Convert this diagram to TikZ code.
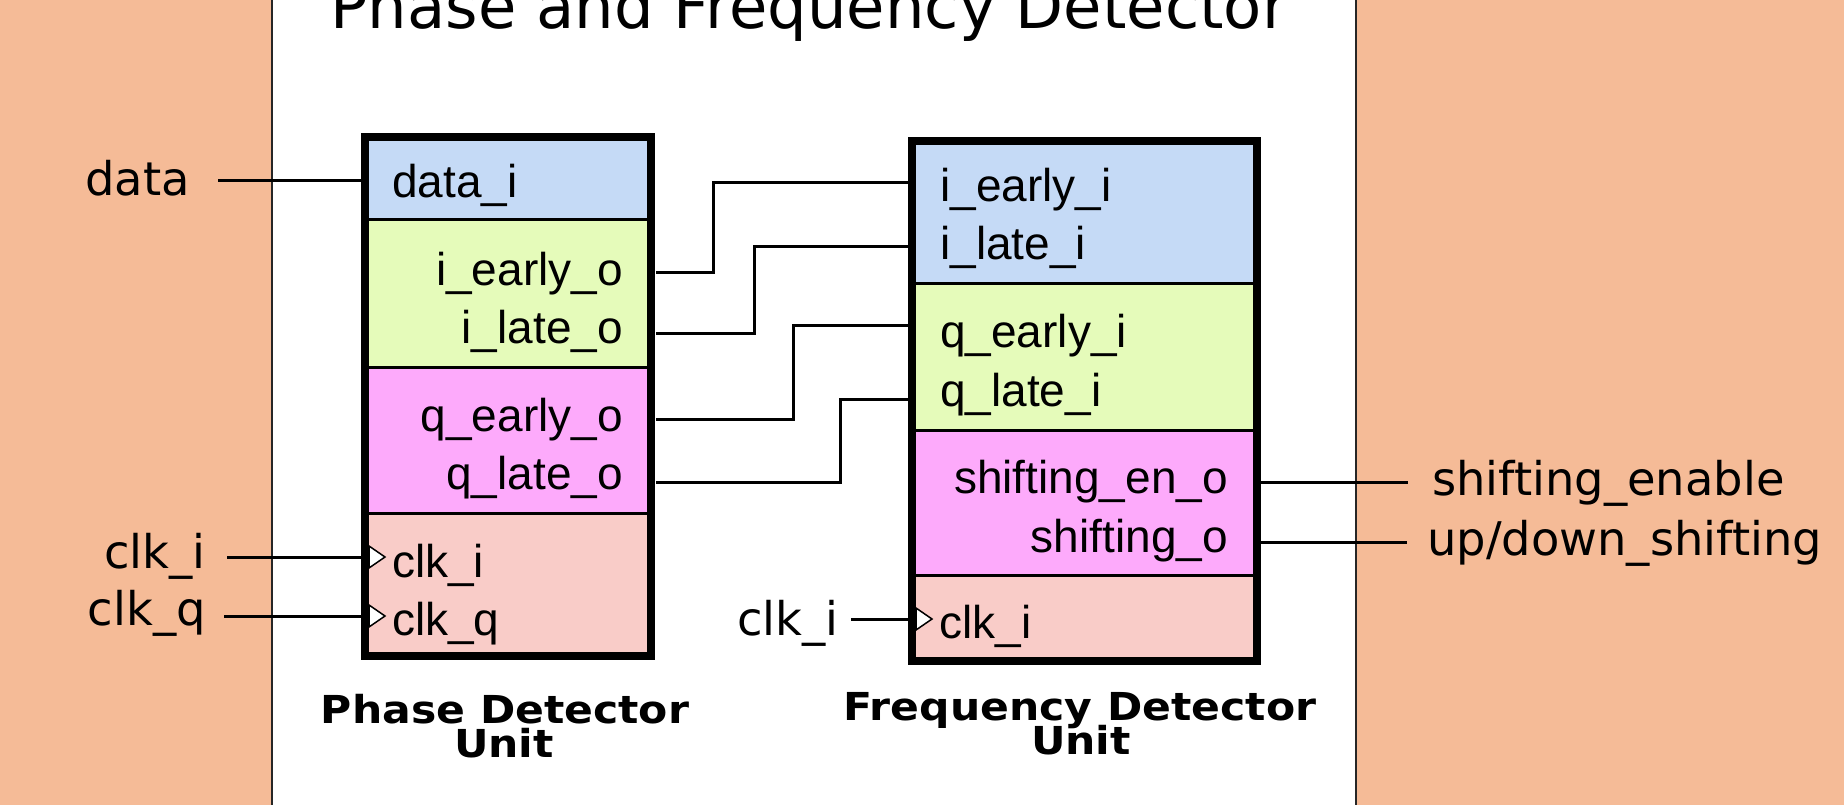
\documentclass[tikz,border=0pt]{standalone}
\usepackage{fontspec}
\setmainfont{DejaVu Sans}
\newfontfamily\pinfont{Liberation Sans}
\newfontfamily\unitfont{DejaVu Sans}[FakeStretch=1.105]
\definecolor{bgorange}{HTML}{F5BB97}
\definecolor{cblue}{HTML}{C5DAF6}
\definecolor{cgreen}{HTML}{E5FBBA}
\definecolor{cmag}{HTML}{FDAAFB}
\definecolor{cpink}{HTML}{F9CCC8}
\tikzset{
  x=1pt, y=-1pt,
  sec/.style={draw=black, line width=3pt, inner sep=0pt, outer sep=0pt, anchor=north west},
  unitbox/.style={draw=black, line width=8.5pt, inner sep=0pt, outer sep=0pt, anchor=north west},
  pin/.style={font=\pinfont\fontsize{46}{46}\selectfont, inner sep=0pt, text=black},
  ext/.style={font=\fontsize{46.4}{46}\selectfont, inner sep=0pt, text=black},
  unitlab/.style={font=\unitfont\bfseries\fontsize{38.5}{34}\selectfont, inner sep=0pt, anchor=base},
  wire/.style={line width=3pt, black},
  clkmark/.style={draw=black, fill=white, line width=1.5pt, line join=miter},
}
\begin{document}
\begin{tikzpicture}
\useasboundingbox (0,0) rectangle (1844,805);
\clip (0,0) rectangle (1844,805);
% background and panel
\fill[bgorange] (0,0) rectangle (1844,805);
\fill[white] (272,-5) rectangle (1356,810);
\draw[line width=2pt, black!85] (271.5,-5) -- (271.5,810);
\draw[line width=2pt, black!85] (1355.5,-5) -- (1355.5,810);

% title
\node[font=\fontsize{62.4}{62}\selectfont, inner sep=0pt, anchor=base] (title) at (809,29) {Phase and Frequency Detector};

% ---------- Phase detector unit ----------
\node[sec, fill=cblue,  minimum width=286pt, minimum height=83pt]  (pdA) at (365,137) {};
\node[sec, fill=cgreen, minimum width=286pt, minimum height=147pt] (pdB) at (365,220) {};
\node[sec, fill=cmag,   minimum width=286pt, minimum height=146pt] (pdC) at (365,367) {};
\node[sec, fill=cpink,  minimum width=286pt, minimum height=143pt] (pdD) at (365,513) {};
\node[unitbox, minimum width=286pt, minimum height=519pt] (pd) at (365,137) {};

\node[pin, anchor=base west] (pdData) at (392,197) {data\_i};
\node[pin, anchor=base east] (pdIE) at (623,285) {i\_early\_o};
\node[pin, anchor=base east] (pdIL) at (623,343) {i\_late\_o};
\node[pin, anchor=base east] (pdQE) at (623,431) {q\_early\_o};
\node[pin, anchor=base east] (pdQL) at (623,489) {q\_late\_o};
\node[pin, anchor=base west] (pdCI) at (392,577) {clk\_i};
\node[pin, anchor=base west] (pdCQ) at (392,635) {clk\_q};

\node[unitlab] (pdLab1) at (505,723) {Phase Detector};
\node[unitlab] (pdLab2) at (504,757) {Unit};

% ---------- Frequency detector unit ----------
\node[sec, fill=cblue,  minimum width=345pt, minimum height=142pt] (fdA) at (912,141) {};
\node[sec, fill=cgreen, minimum width=345pt, minimum height=147pt] (fdB) at (912,283) {};
\node[sec, fill=cmag,   minimum width=345pt, minimum height=145pt] (fdC) at (912,430) {};
\node[sec, fill=cpink,  minimum width=345pt, minimum height=86pt]  (fdD) at (912,575) {};
\node[unitbox, minimum width=345pt, minimum height=520pt] (fd) at (912,141) {};

\node[pin, anchor=base west] (fdIE) at (940,202) {i\_early\_i};
\node[pin, anchor=base west] (fdIL) at (940,259) {i\_late\_i};
\node[pin, anchor=base west] (fdQE) at (940,347) {q\_early\_i};
\node[pin, anchor=base west] (fdQL) at (940,406) {q\_late\_i};
\node[pin, anchor=base east] (fdSE) at (1228,493) {shifting\_en\_o};
\node[pin, anchor=base east] (fdSO) at (1228,552) {shifting\_o};
\node[pin, anchor=base west] (fdCI) at (939,638) {clk\_i};

\node[unitlab] (fdLab1) at (1080,720) {Frequency Detector};
\node[unitlab] (fdLab2) at (1081,754) {Unit};

% ---------- external labels ----------
\node[ext, anchor=base east] (xData) at (190,196) {data};
\node[ext, anchor=base east] (xCI) at (206,568) {clk\_i};
\node[ext, anchor=base east] (xCQ) at (206,625) {clk\_q};
\node[ext, anchor=base east] (xFCI) at (839,635) {clk\_i};
\node[ext, anchor=base west] (xSE) at (1432,495) {shifting\_enable};
\node[ext, anchor=base west] (xSO) at (1427,555) {up/down\_shifting};

% ---------- ports ----------
\coordinate (inData) at (218,181);  \coordinate (pData) at (361,181);
\coordinate (inCI) at (227,557);    \coordinate (pCI) at (361,557);
\coordinate (inCQ) at (224,616);    \coordinate (pCQ) at (361,616);
\coordinate (pIEo) at (656,272);    \coordinate (fIEi) at (908,183);
\coordinate (pILo) at (656,333);    \coordinate (fILi) at (908,246);
\coordinate (pQEo) at (656,419);    \coordinate (fQEi) at (908,325);
\coordinate (pQLo) at (656,482);    \coordinate (fQLi) at (908,399);
\coordinate (inFCI) at (851,619);   \coordinate (fCI) at (908,619);
\coordinate (fSEo) at (1261,482);   \coordinate (outSE) at (1408,482);
\coordinate (fSOo) at (1261,542);   \coordinate (outSO) at (1407,542);

% ---------- connectors ----------
\draw[wire] (inData) -- (pData);
\draw[wire] (inCI) -- (pCI);
\draw[wire] (inCQ) -- (pCQ);
\draw[wire] (pIEo) -- (713,272) |- (fIEi);
\draw[wire] (pILo) -- (754,333) |- (fILi);
\draw[wire] (pQEo) -- (793,419) |- (fQEi);
\draw[wire] (pQLo) -- (840,482) |- (fQLi);
\draw[wire] (inFCI) -- (fCI);
\draw[wire] (fSEo) -- (outSE);
\draw[wire] (fSOo) -- (outSO);

% clock markers
\draw[clkmark] (369,546) -- (385,557) -- (369,568) -- cycle;
\draw[clkmark] (369,605) -- (385,616) -- (369,627) -- cycle;
\draw[clkmark] (916,608) -- (932,619) -- (916,630) -- cycle;
\end{tikzpicture}
\end{document}
